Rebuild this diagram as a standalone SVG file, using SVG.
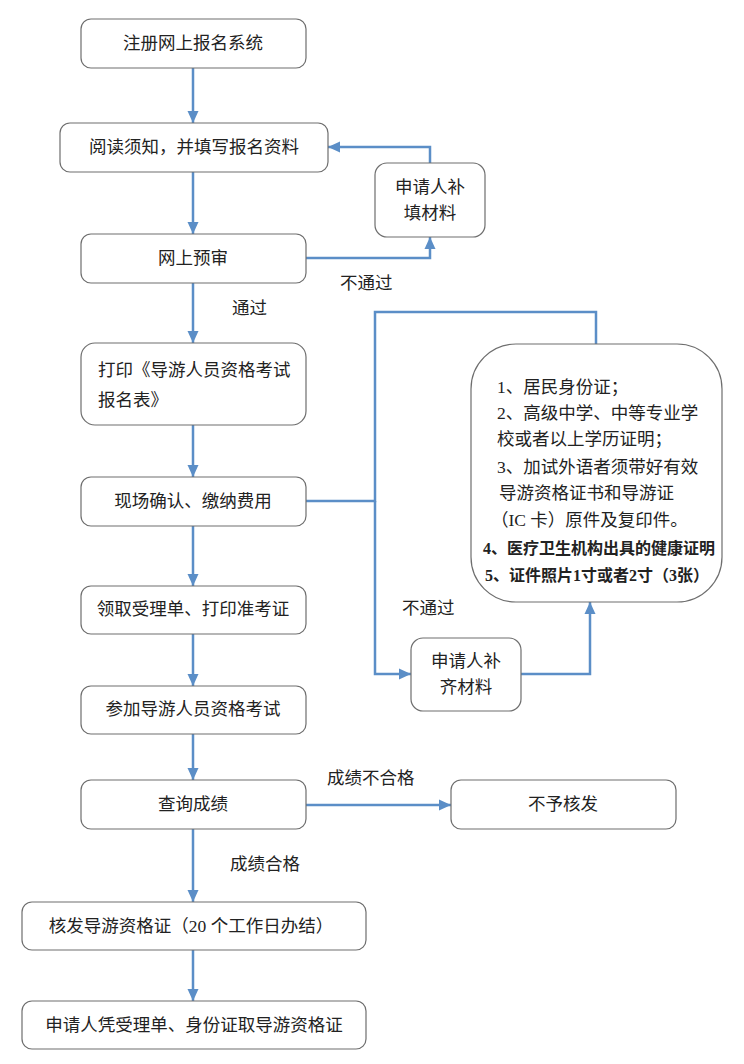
<svg xmlns="http://www.w3.org/2000/svg" width="744" height="1064" viewBox="0 0 744 1064">
<defs>
<marker id="ah" markerUnits="userSpaceOnUse" markerWidth="12" markerHeight="12" viewBox="0 0 12 12" refX="12" refY="6" orient="auto">
<path d="M0,0.5 L12,6 L0,11.5 Z" fill="#5b8ec7"/>
</marker>
<style>
.box{fill:#fff;stroke:#6e6e6e;stroke-width:1.2}
.t{font-family:"Liberation Serif","Noto Sans CJK SC",serif;font-size:17.5px;fill:#222;dominant-baseline:central}
.c{text-anchor:middle}
.b{font-weight:bold;font-size:16px}
.ln{fill:none;stroke:#5b8ec7;stroke-width:2.5}
</style>
</defs>
<rect width="744" height="1064" fill="#fff"/>
<g id="connectors">
<path class="ln" d="M193,68 V123" marker-end="url(#ah)"/>
<path class="ln" d="M193,172 V234" marker-end="url(#ah)"/>
<path class="ln" d="M306,258 H430 V237" marker-end="url(#ah)"/>
<path class="ln" d="M430,163 V147 H328" marker-end="url(#ah)"/>
<path class="ln" d="M193,283 V343" marker-end="url(#ah)"/>
<path class="ln" d="M193,425 V477" marker-end="url(#ah)"/>
<path class="ln" d="M306,501 H375 V312 H596 V344"/>
<path class="ln" d="M375,501 V674 H411" marker-end="url(#ah)"/>
<path class="ln" d="M520,674 H590 V602" marker-end="url(#ah)"/>
<path class="ln" d="M193,526 V586" marker-end="url(#ah)"/>
<path class="ln" d="M193,634 V686" marker-end="url(#ah)"/>
<path class="ln" d="M193,734 V780" marker-end="url(#ah)"/>
<path class="ln" d="M306,805 H451" marker-end="url(#ah)"/>
<path class="ln" d="M193,829 V902" marker-end="url(#ah)"/>
<path class="ln" d="M193,950 V1001" marker-end="url(#ah)"/>
<text class="t" x="340" y="283">不通过</text>
<text class="t" x="232" y="308">通过</text>
<text class="t" x="402" y="608">不通过</text>
<text class="t" x="327" y="778">成绩不合格</text>
<text class="t" x="230" y="864">成绩合格</text>
</g>
<g id="n1"><rect class="box" x="81" y="19" width="225" height="49" rx="10"/><text class="t c" x="193" y="43">注册网上报名系统</text></g>
<g id="n2"><rect class="box" x="60" y="123" width="268" height="49" rx="10"/><text class="t c" x="194" y="147">阅读须知，并填写报名资料</text></g>
<g id="n3"><rect class="box" x="81" y="234" width="225" height="49" rx="10"/><text class="t c" x="193" y="258">网上预审</text></g>
<g id="n4"><rect class="box" x="375" y="163" width="110" height="74" rx="12"/><text class="t c" x="430" y="187">申请人补</text><text class="t c" x="430" y="213">填材料</text></g>
<g id="n5"><rect class="box" x="81" y="343" width="225" height="82" rx="14"/><text class="t" x="98" y="370">打印《导游人员资格考试</text><text class="t" x="98" y="400">报名表》</text></g>
<g id="n6"><rect class="box" x="81" y="477" width="225" height="49" rx="10"/><text class="t c" x="193" y="501">现场确认、缴纳费用</text></g>
<g id="n7"><rect class="box" x="471" y="344" width="251" height="258" rx="45"/>
<text class="t" x="497" y="387">1、居民身份证；</text>
<text class="t" x="497" y="413">2、高级中学、中等专业学</text>
<text class="t" x="497" y="439">校或者以上学历证明；</text>
<text class="t" x="497" y="467">3、加试外语者须带好有效</text>
<text class="t" x="499" y="493">导游资格证书和导游证</text>
<text class="t" x="491" y="520">（IC 卡）原件及复印件。</text>
<text class="t b" x="483" y="548">4、医疗卫生机构出具的健康证明</text>
<text class="t b" x="485" y="575">5、证件照片1寸或者2寸（3张）</text>
</g>
<g id="n8"><rect class="box" x="411" y="638" width="110" height="73" rx="12"/><text class="t c" x="466" y="661">申请人补</text><text class="t c" x="466" y="687">齐材料</text></g>
<g id="n9"><rect class="box" x="81" y="586" width="225" height="48" rx="10"/><text class="t c" x="193" y="609">领取受理单、打印准考证</text></g>
<g id="n10"><rect class="box" x="81" y="686" width="225" height="48" rx="10"/><text class="t c" x="193" y="709">参加导游人员资格考试</text></g>
<g id="n11"><rect class="box" x="81" y="780" width="225" height="49" rx="10"/><text class="t c" x="193" y="804">查询成绩</text></g>
<g id="n12"><rect class="box" x="451" y="780" width="225" height="49" rx="10"/><text class="t c" x="563" y="804">不予核发</text></g>
<g id="n13"><rect class="box" x="22" y="902" width="344" height="48" rx="10"/><text class="t c" x="191" y="926">核发导游资格证（20 个工作日办结）</text></g>
<g id="n14"><rect class="box" x="22" y="1001" width="344" height="48" rx="10"/><text class="t c" x="194" y="1025">申请人凭受理单、身份证取导游资格证</text></g>
</svg>
